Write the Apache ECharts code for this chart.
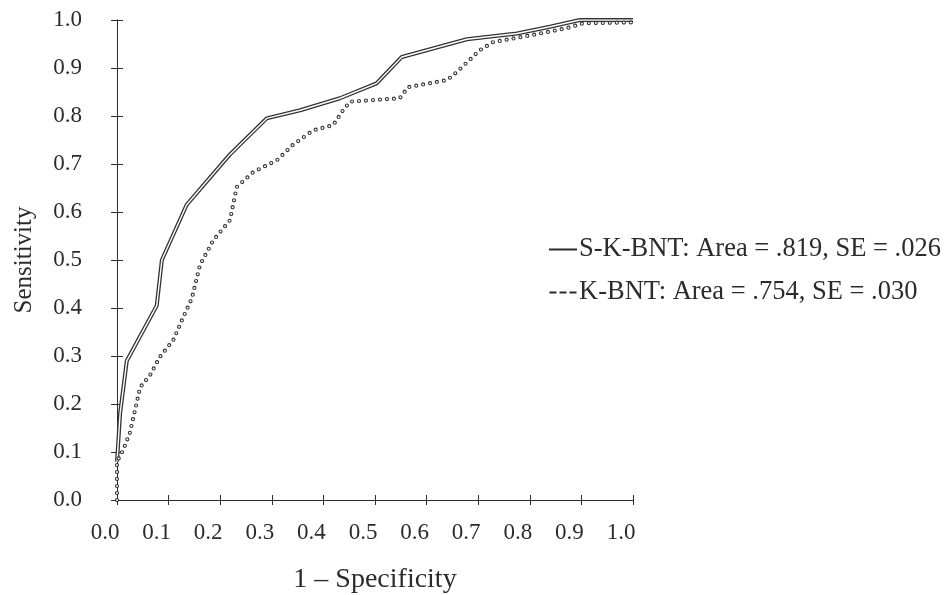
<!DOCTYPE html>
<html>
<head>
<meta charset="utf-8">
<script src="https://cdn.jsdelivr.net/npm/echarts@6/dist/echarts.min.js"></script>
<style>
  html, body { margin: 0; padding: 0; background: #fff; }
  #main { width: 945px; height: 595px; }
</style>
</head>
<body>
<div id="main"></div>
<script>
// ROC 曲线数据 (1 - Specificity, Sensitivity)
const skbntX = [0, 0.006, 0.019, 0.077, 0.087, 0.135, 0.219, 0.29, 0.355, 0.432, 0.503, 0.552, 0.678, 0.775, 0.839, 0.897, 1.0]
const skbntY = [0.08, 0.18, 0.29, 0.405, 0.50, 0.615, 0.72, 0.795, 0.812, 0.837, 0.868, 0.923, 0.96, 0.972, 0.986, 1.0, 1.0]

const kbntX = [0, 0, 0.012, 0.025, 0.045, 0.064, 0.083, 0.109, 0.128, 0.145, 0.161, 0.186, 0.219, 0.232, 0.264, 0.31, 0.341, 0.38, 0.419, 0.438, 0.452, 0.548, 0.564, 0.64, 0.659, 0.703, 0.729, 0.806, 0.872, 0.903, 1.0]
const kbntY = [0, 0.08, 0.104, 0.14, 0.235, 0.26, 0.298, 0.333, 0.38, 0.42, 0.49, 0.54, 0.583, 0.652, 0.683, 0.708, 0.74, 0.77, 0.781, 0.812, 0.83, 0.837, 0.86, 0.875, 0.892, 0.937, 0.954, 0.969, 0.983, 0.993, 0.995]

const seriesNames = ['S-K-BNT', 'K-BNT']
const legendTexts = {
  'S-K-BNT': 'S-K-BNT: Area = .819, SE = .026',
  'K-BNT': 'K-BNT: Area = .754, SE = .030'
}

const ink = '#2b2b2b'
const font = "'Liberation Serif', 'Times New Roman', serif"

function pairs(xs, ys) {
  return xs.map((x, i) => [x, ys[i]])
}

const myChart = echarts.init(document.getElementById('main'))

// 坐标轴公共设置
const baseX = {
  type: 'value', min: 0, max: 1, interval: 0.1, position: 'bottom',
  axisLine: { show: true, onZero: false, lineStyle: { color: ink, width: 1 } },
  splitLine: { show: false }
}
const baseY = {
  type: 'value', min: 0, max: 1, interval: 0.1, position: 'left',
  axisLine: { show: true, onZero: false, lineStyle: { color: ink, width: 1 } },
  splitLine: { show: false }
}

myChart.setOption({
  animation: false,
  backgroundColor: '#fff',
  grid: { left: 117, right: 312, top: 20, bottom: 95, containLabel: false, outerBoundsMode: 'none' },
  legend: {
    orient: 'vertical',
    left: 544,
    top: 231,
    itemGap: 16,
    itemWidth: 28,
    itemHeight: 2,
    data: [
      { name: 'S-K-BNT', icon: 'rect', itemStyle: { color: ink } },
      { name: 'K-BNT', icon: 'path://M0,0h7v2h-7zM10,0h7v2h-7zM20,0h7v2h-7z', itemStyle: { color: ink } }
    ],
    formatter: name => legendTexts[name],
    textStyle: { fontFamily: font, fontSize: 26.5, color: ink, lineHeight: 27, padding: [0, 0, 0, -3] }
  },
  xAxis: [
    Object.assign({}, baseX, {
      name: '1 – Specificity',
      nameLocation: 'middle',
      nameGap: 66,
      nameTextStyle: { fontFamily: font, fontSize: 28, color: ink },
      axisTick: { show: true, inside: false, length: 5, lineStyle: { color: ink, width: 1 } },
      axisLabel: {
        margin: 21,
        fontFamily: font, fontSize: 23, color: ink,
        padding: [0, 24, 0, 0],
        formatter: v => v.toFixed(1)
      }
    }),
    Object.assign({}, baseX, {
      axisTick: { show: true, inside: true, length: 5, lineStyle: { color: ink, width: 1 } },
      axisLabel: { show: false }
    })
  ],
  yAxis: [
    Object.assign({}, baseY, {
      name: 'Sensitivity',
      nameLocation: 'middle',
      nameGap: 80,
      nameTextStyle: { fontFamily: font, fontSize: 25, color: ink },
      axisTick: { show: true, inside: false, length: 6, lineStyle: { color: ink, width: 1 } },
      axisLabel: {
        margin: 35,
        fontFamily: font, fontSize: 23, color: ink,
        padding: [6, 0, 0, 0],
        formatter: v => v.toFixed(1)
      }
    }),
    Object.assign({}, baseY, {
      axisTick: { show: true, inside: true, length: 6, lineStyle: { color: ink, width: 1 } },
      axisLabel: { show: false }
    })
  ],
  series: [
    // 双线效果：深色粗线 + 白色细线
    {
      name: seriesNames[0], type: 'line', symbol: 'none', z: 2,
      data: pairs(skbntX, skbntY),
      itemStyle: { color: ink },
      lineStyle: { color: '#333', width: 4 }
    },
    {
      name: 'S-K-BNT-inner', type: 'line', symbol: 'none', z: 3, silent: true,
      data: pairs(skbntX, skbntY),
      lineStyle: { color: '#fff', width: 1.4 }
    },
    // 空心圆点线：深色圆点 + 白色小圆点
    {
      name: seriesNames[1], type: 'line', symbol: 'none', z: 4,
      data: pairs(kbntX, kbntY),
      itemStyle: { color: ink },
      lineStyle: { color: '#333', width: 4.2, type: [0, 7], cap: 'round' }
    },
    {
      name: 'K-BNT-inner', type: 'line', symbol: 'none', z: 5, silent: true,
      data: pairs(kbntX, kbntY),
      lineStyle: { color: '#fff', width: 2, type: [0, 7], cap: 'round' }
    }
  ]
})
</script>
</body>
</html>
